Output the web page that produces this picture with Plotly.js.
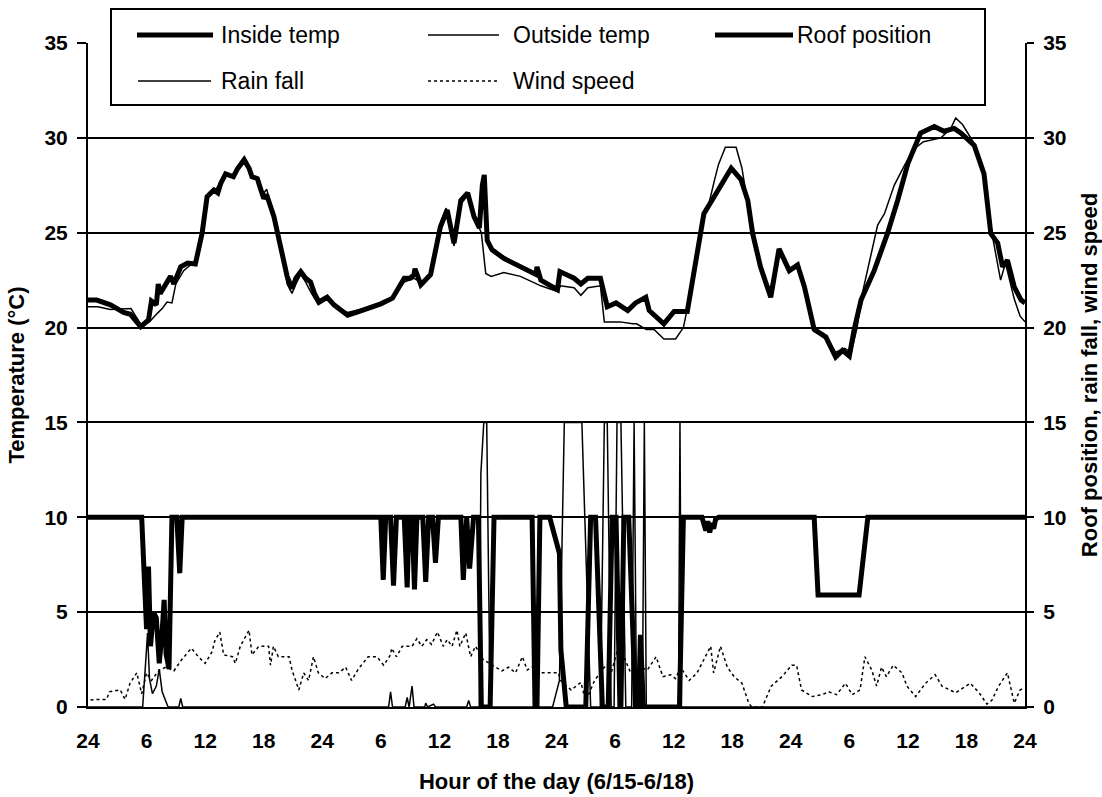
<!DOCTYPE html>
<html>
<head>
<meta charset="utf-8">
<script src="https://cdn.plot.ly/plotly-3.0.1.min.js"></script>
<style>html,body{margin:0;padding:0;background:#fff;}#chart{width:1102px;height:797px;}</style>
</head>
<body>
<div id="chart"></div>
<script>
// ---------------- DATA ----------------
const hourTickLabels = ["24","6","12","18","24","6","12","18","24","6","12","18","24","6","12","18","24"];

const insideHours = [0,0.9,2.3,3.65,4.35,5.4,6.2,6.5,7.0,7.2,7.4,8.45,8.8,9.5,10.2,11.0,11.7,12.2,12.9,13.3,13.6,14.1,14.9,15.3,16.0,16.5,16.8,17.35,18.0,18.3,19.05,19.7,20.4,20.9,21.3,21.8,22.3,22.8,23.2,23.65,24.5,25.2,26.6,27.5,28.3,30.0,31.2,32.4,33.0,33.4,33.5,34.1,35.1,36.1,36.8,37.5,38.2,38.9,39.55,40.1,40.4,40.6,40.9,41.4,42.6,44.3,45.9,46.0,46.4,48.1,48.35,49.8,50.5,51.2,52.5,53.2,54.1,55.3,56.1,57.15,57.5,59.0,60.05,61.4,62.1,63.1,64.15,64.8,65.9,66.9,67.6,68.1,68.9,69.95,70.8,71.85,72.7,73.4,74.4,75.6,76.6,77.3,78.0,78.5,79.2,80.55,81.9,82.95,84.0,85.3,86.7,87.7,88.75,89.45,90.8,91.8,92.5,93.2,93.7,94.2,94.9,95.6,96.0];
const insideTemp = [21.45,21.45,21.2,20.8,20.7,20.05,20.4,21.4,21.2,22.3,21.8,22.7,22.3,23.2,23.4,23.35,25.0,26.9,27.25,27.1,27.6,28.1,27.95,28.35,28.85,28.4,27.95,27.85,26.8,27.0,25.85,24.25,22.7,22.05,22.6,22.95,22.6,22.4,21.8,21.35,21.6,21.2,20.65,20.8,20.95,21.25,21.55,22.6,22.6,22.8,23.1,22.25,22.8,25.3,26.2,24.45,26.7,27.1,25.85,25.25,27.5,28.05,24.6,24.1,23.65,23.2,22.8,23.2,22.5,22.0,22.95,22.6,22.3,22.6,22.6,21.1,21.3,20.9,21.3,21.6,20.9,20.2,20.85,20.85,22.85,26.0,26.9,27.5,28.4,27.8,26.7,24.95,23.2,21.6,24.15,23.0,23.3,22.15,19.9,19.5,18.45,18.8,18.5,19.9,21.45,23.0,24.95,26.7,28.65,30.25,30.6,30.35,30.5,30.25,29.6,28.1,24.95,24.45,23.2,23.55,22.15,21.45,21.3];

const outsideHours = [0,1.0,2.3,3.7,4.4,5.5,6.3,7.1,7.6,8.1,8.6,9.0,9.8,10.5,11.0,11.7,12.2,13.0,13.6,14.1,15.0,15.4,16.0,16.5,16.9,17.4,17.9,18.3,19.1,19.8,20.4,20.9,21.3,21.8,22.3,22.8,23.6,24.5,25.3,26.6,28.3,30.0,31.2,32.4,33.4,34.1,35.1,36.1,36.7,37.5,38.2,38.9,39.6,40.3,40.75,41.3,42.6,44.3,45.9,46.4,48.1,48.4,49.8,50.5,51.2,52.5,52.9,54.5,55.8,56.2,57.2,58.0,59.0,60.2,61.0,62.0,62.9,63.6,64.2,64.6,65.3,66.4,67.0,67.6,68.1,68.9,69.9,70.8,71.8,72.7,73.4,74.4,75.6,76.6,77.5,78.2,78.8,79.2,80.0,80.9,81.6,82.6,83.6,84.6,85.6,86.6,87.4,88.4,88.9,89.6,90.8,91.8,92.6,93.5,94.0,94.9,95.5,96.0];
const outsideTemp = [21.1,21.1,20.95,21.0,21.0,20.1,20.3,20.75,21.0,21.35,21.3,22.3,23.0,23.3,23.3,25.0,26.9,27.2,27.7,28.1,28.0,28.4,28.8,28.3,27.9,27.8,27.0,27.3,25.8,24.0,22.3,21.8,22.3,22.8,22.4,21.9,21.2,21.5,21.1,20.8,21.0,21.3,21.6,22.4,22.6,22.4,22.8,25.5,26.3,24.3,26.5,27.0,25.8,25.0,22.85,22.7,22.9,22.7,22.3,22.2,21.9,22.2,22.1,21.7,22.1,22.2,20.3,20.3,20.2,20.2,19.9,19.9,19.4,19.4,20.0,22.5,25.8,26.5,27.8,28.6,29.5,29.5,28.4,26.5,24.9,23.1,22.0,24.1,22.9,23.2,22.0,19.8,19.5,18.7,18.9,18.7,20.0,21.5,23.3,25.4,26.0,27.5,28.5,29.4,29.8,29.9,30.0,30.5,31.05,30.7,29.7,28.2,25.0,22.5,23.4,21.5,20.6,20.3];

const roofHours = [0,5.5,6.0,6.2,6.4,6.7,7.0,7.3,7.6,7.8,8.0,8.3,8.6,9.1,9.4,9.65,30.0,30.25,30.5,31.0,31.3,31.6,32.4,32.7,32.9,33.2,33.45,33.7,34.3,34.6,34.9,35.3,35.6,35.9,38.2,38.45,38.8,39.1,39.5,40.0,40.3,41.2,41.6,45.5,45.8,46.0,46.3,47.3,48.3,48.45,49.0,51.0,51.5,52.0,52.7,53.3,53.7,54.1,54.5,54.6,54.9,55.4,56.1,56.4,56.6,56.9,60.6,61.0,62.9,63.3,63.5,63.7,63.9,64.1,64.3,64.6,74.4,74.8,79.0,79.5,79.9,96.0];
const roofPosition = [10,10,4.1,7.4,3.2,5.0,4.7,2.3,4.0,5.65,2.8,2.0,10,10,7.05,10,10,6.7,10,10,6.4,10,10,6.3,10,10,6.2,10,10,6.6,10,10,7.6,10,10,6.7,10,7.3,10,10,0,0,10,10,0,0,10,10,8.1,3,0,0,10,10,0,0,10,10,0,0,10,10,0,0,3.8,0,0,10,10,9.3,9.8,9.2,9.7,9.4,9.9,10,10,5.9,5.9,8.0,10,10];

const rainHours = [0,5.6,5.9,6.1,6.3,6.6,7.0,7.3,7.6,8.0,8.2,9.3,9.5,9.7,30.8,31.0,31.2,32.5,32.7,32.9,33.2,33.4,34.5,34.6,34.8,35.4,35.6,38.8,39.0,39.2,40.1,40.25,40.35,40.55,40.85,41.2,47.6,48.3,48.8,50.6,51.5,52.5,52.9,53.2,53.6,53.9,54.2,54.6,55.1,55.7,55.95,56.2,56.8,57.0,57.2,60.5,60.65,60.8,96.0];
const rainFall = [0,0,2.3,3.9,1.5,0.7,1.1,2.0,0.8,0.3,0,0,0.45,0,0,0.8,0,0,0.5,0,1.1,0,0,0.2,0,0.15,0,0,0.35,0,0,12.3,13.3,15,15,0,0,1.4,15,15,0,0,15,15,0,0,15,15,0,0,15,0,0,15,0,0,15,0,0];

const windHours = [0.26,0.9,1.9,2.2,3.3,3.8,4.3,5.0,5.5,6.0,6.5,7.3,8.0,8.8,9.6,10.6,11.3,12.0,12.7,13.0,13.5,13.9,14.8,15.1,15.6,16.5,16.8,17.5,18.5,18.7,19.0,19.5,20.6,20.9,21.6,22.1,22.6,23.1,23.6,24.3,25.0,25.7,26.4,27.0,27.7,28.7,29.6,30.3,31.0,31.1,31.6,32.2,33.2,33.7,34.2,34.7,35.2,35.8,36.4,36.8,37.3,37.8,38.1,38.7,39.2,39.7,40.5,41.7,42.4,43.1,43.8,44.5,45.0,45.5,46.2,48.2,48.4,49.5,50.5,51.0,51.9,52.9,53.6,54.2,54.9,55.6,56.6,57.3,58.2,58.9,59.7,60.2,60.7,61.6,62.4,63.1,63.8,64.1,64.8,65.5,66.2,67.0,67.7,68.0,69.1,69.4,70.0,71.1,72.1,72.6,73.1,74.2,75.2,75.9,76.7,77.6,78.3,79.1,79.6,80.3,80.8,81.3,81.8,82.5,83.4,83.9,84.8,85.8,86.8,87.5,88.9,90.4,91.3,92.1,92.6,93.3,94.2,94.9,95.5,95.9];
const windSpeed = [0.37,0.4,0.4,0.8,0.9,0.4,1.25,1.8,0.7,1.8,1.4,1.95,2.1,1.9,2.5,3.1,2.65,2.3,2.9,3.5,3.95,2.75,2.65,2.3,3.2,4.05,2.75,3.2,3.2,2.2,3.2,2.65,2.65,1.95,0.9,1.8,1.4,2.65,1.8,1.5,1.8,1.8,2.1,1.4,2.0,2.65,2.65,2.2,2.75,3.1,2.65,3.2,3.2,3.6,3.2,3.55,3.3,3.95,3.2,3.55,3.2,4.05,3.2,3.9,2.65,3.2,2.5,2.1,1.9,2.1,1.8,2.65,1.95,2.1,1.8,1.8,1.4,0.9,1.3,0.3,1.4,2.1,1.8,2.9,2.65,1.8,2.1,1.95,2.65,1.6,1.7,1.5,2.1,1.4,1.8,2.5,3.2,1.8,3.2,2.1,1.6,1.25,0.2,0,0,0.37,1.1,1.6,2.2,2.2,0.9,0.55,0.65,0.8,0.65,1.25,0.65,0.9,2.65,1.95,1.1,2.1,1.6,2.2,1.8,1.1,0.55,1.25,1.7,1.1,0.75,1.25,0.75,0.15,0.35,1.1,1.8,0.2,0.9,1.0];

const seriesNames = ["Inside temp","Outside temp","Roof position","Rain fall","Wind speed"];

// ---------------- LAYOUT GEOMETRY ----------------
const W = 1102, H = 797;
const PL = 88, PR = 1025, PT = 43, PB = 707;
const fx = px => (px - PL) / (PR - PL);
const fy = py => (PB - py) / (PB - PT);
const FONT = "Liberation Sans, Arial, Helvetica, sans-serif";

const thick = {color:"#000", width:5};
const thin = {color:"#000", width:1.5};
const dotted = {color:"#000", width:1.5, dash:"dot"};

const traces = [
  {x: insideHours, y: insideTemp, name: seriesNames[0], mode:"lines", line: thick, yaxis:"y"},
  {x: outsideHours, y: outsideTemp, name: seriesNames[1], mode:"lines", line: thin, yaxis:"y"},
  {x: roofHours, y: roofPosition, name: seriesNames[2], mode:"lines", line: thick, yaxis:"y2"},
  {x: rainHours, y: rainFall, name: seriesNames[3], mode:"lines", line: thin, yaxis:"y2"},
  {x: windHours, y: windSpeed, name: seriesNames[4], mode:"lines", line: dotted, yaxis:"y2"}
];
traces.forEach(t => { t.showlegend = false; t.hoverinfo = "skip"; });

// manual legend (box, samples, labels)
const legendItems = [
  {i:0, x0:137, x1:213, tx:219, row:35, line: thick},
  {i:1, x0:428, x1:499, tx:511, row:35, line: thin},
  {i:2, x0:715, x1:793, tx:795, row:35, line: thick},
  {i:3, x0:138, x1:211, tx:219, row:81, line: thin},
  {i:4, x0:428, x1:497, tx:511, row:81, line: dotted}
];
const shapes = [
  {type:"rect", xref:"paper", yref:"paper", x0:fx(111), x1:fx(985), y0:fy(105), y1:fy(9),
   line:{color:"#000", width:2}, fillcolor:"#fff", layer:"above"}
];
const annotations = [];
legendItems.forEach(it => {
  shapes.push({type:"line", xref:"paper", yref:"paper", x0:fx(it.x0), x1:fx(it.x1), y0:fy(it.row), y1:fy(it.row),
    line:{color:"#000", width:it.line.width, dash: it.line.dash || "solid"}, layer:"above"});
  annotations.push({xref:"paper", yref:"paper", x:fx(it.tx), y:fy(it.row), xanchor:"left", yanchor:"middle",
    text: seriesNames[it.i], showarrow:false, font:{family:FONT, size:23, color:"#000"}});
});

const tickFont = {family:FONT, size:21, color:"#000", weight:"bold"};
const titleFont = {family:FONT, size:22, color:"#000", weight:"bold"};

const layout = {
  width: W, height: H,
  margin: {l: PL, r: W - PR, t: PT, b: H - PB, pad: 0},
  paper_bgcolor: "#fff", plot_bgcolor: "#fff",
  showlegend: false,
  xaxis: {
    range: [0, 96],
    tickmode: "array",
    tickvals: hourTickLabels.map((_, i) => i * 6),
    ticktext: hourTickLabels,
    showgrid: false, zeroline: false,
    showline: true, linecolor: "#000", linewidth: 2,
    ticks: "outside", ticklen: 14, tickcolor: "rgba(0,0,0,0)",
    tickfont: tickFont,
    title: {text: "Hour of the day (6/15-6/18)", font: titleFont, standoff: 22}
  },
  yaxis: {
    range: [0, 35], tick0: 0, dtick: 5,
    showgrid: true, gridcolor: "#000", gridwidth: 2,
    zeroline: false,
    showline: true, linecolor: "#000", linewidth: 2,
    ticks: "outside", ticklen: 9, tickwidth: 2, tickcolor: "#000",
    ticklabelstandoff: 5,
    tickfont: tickFont,
    title: {text: "Temperature (°C)", font: titleFont, standoff: 14}
  },
  yaxis2: {
    range: [0, 35], tick0: 0, dtick: 5,
    overlaying: "y", side: "right",
    showgrid: false, zeroline: false,
    showline: true, linecolor: "#000", linewidth: 2,
    ticks: "outside", ticklen: 7, tickwidth: 2, tickcolor: "#000",
    ticklabelstandoff: 5,
    tickfont: tickFont,
    title: {text: "Roof position, rain fall, wind speed", font: titleFont, standoff: 18}
  },
  shapes: shapes,
  annotations: annotations
};

Plotly.newPlot("chart", traces, layout, {displayModeBar: false, staticPlot: true});
</script>
</body>
</html>
